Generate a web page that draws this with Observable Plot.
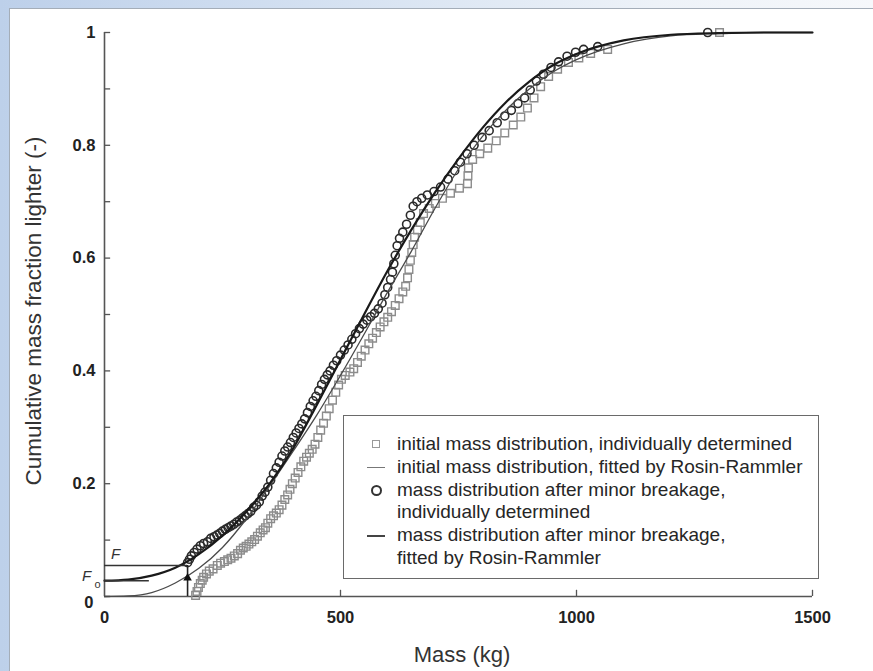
<!DOCTYPE html>
<html><head><meta charset="utf-8">
<script src="https://cdn.jsdelivr.net/npm/d3@7"></script>
<script src="https://cdn.jsdelivr.net/npm/@observablehq/plot@0.6"></script>
<style>
html,body{margin:0;padding:0;}
body{width:873px;height:671px;position:relative;overflow:hidden;
  background:linear-gradient(90deg,#bdd0ea 0%,#d3e0f1 35%,#edf2f8 75%,#f6f8fb 100%);
  font-family:"Liberation Sans",Arial,sans-serif;}
#panel{position:absolute;left:9px;top:8px;width:864px;height:663px;background:#fff;
  border-left:1px solid #a4adb8;border-top:1px solid #a4adb8;box-sizing:border-box;}
#chart{position:absolute;left:0;top:0;}
#ytitle{position:absolute;left:34px;top:311px;transform:translate(-50%,-50%) rotate(-90deg);
  white-space:nowrap;font-size:22.5px;color:#333;}
#xtitle{position:absolute;left:462px;top:655px;transform:translate(-50%,-50%);
  white-space:nowrap;font-size:22px;color:#333;}
#legend{position:absolute;left:343px;top:415px;width:476px;height:164px;box-sizing:border-box;
  border:1.6px solid #6a6a6a;background:#fff;}
.row{position:absolute;left:0;height:22px;line-height:22px;font-size:19px;color:#262626;white-space:nowrap;}
.txt{position:absolute;left:53px;top:0;}
.sym{position:absolute;}
</style></head>
<body>
<div id="panel"></div>
<div id="chart"></div>
<div id="ytitle">Cumulative mass fraction lighter (-)</div>
<div id="xtitle">Mass (kg)</div>
<div id="legend"></div>
<script>
// ---- data ----
const circleMass = [176,180,184,190,196,203,210,218,225,232,238,244,250,256,262,268,274,280,286,292,298,304,310,316,322,328,334,340,346,352,358,364,370,376,382,388,394,400,406,412,418,424,430,436,442,448,454,460,466,472,478,485,492,500,508,516,524,532,540,548,556,564,572,580,588,594,600,606,610,613,616,620,625,632,640,648,654,662,672,684,698,712,728,742,754,768,783,800,815,832,848,862,876,890,902,915,930,946,962,980,998,1015,1045,1278];
const circleFrac = [0.060,0.066,0.072,0.078,0.084,0.090,0.094,0.097,0.103,0.106,0.109,0.112,0.116,0.119,0.122,0.125,0.128,0.132,0.135,0.139,0.143,0.147,0.151,0.158,0.162,0.168,0.178,0.185,0.194,0.206,0.218,0.228,0.238,0.249,0.258,0.265,0.273,0.282,0.290,0.298,0.306,0.315,0.326,0.337,0.347,0.355,0.365,0.376,0.385,0.393,0.400,0.410,0.418,0.428,0.437,0.446,0.456,0.466,0.475,0.483,0.490,0.496,0.502,0.510,0.520,0.535,0.548,0.562,0.575,0.590,0.605,0.622,0.635,0.646,0.660,0.676,0.692,0.700,0.706,0.712,0.718,0.726,0.740,0.755,0.770,0.785,0.800,0.814,0.826,0.840,0.852,0.862,0.874,0.884,0.898,0.914,0.926,0.938,0.948,0.958,0.965,0.970,0.975,1.0];
const squareMass = [193,196,199,203,207,210,216,222,230,239,246,254,261,268,275,282,288,294,300,306,312,318,324,330,336,341,346,352,358,364,370,376,382,388,393,398,404,410,416,422,428,434,440,446,452,458,464,470,476,483,490,496,502,510,520,528,536,544,552,560,568,576,584,592,600,608,616,624,632,638,642,645,648,651,654,657,663,669,676,688,701,716,733,752,769,770,771,780,795,812,830,848,866,882,896,910,924,941,960,983,1005,1030,1066,1303];
const squareFrac = [0.002,0.009,0.016,0.023,0.029,0.034,0.040,0.045,0.049,0.055,0.059,0.062,0.065,0.068,0.072,0.076,0.082,0.086,0.089,0.093,0.097,0.101,0.107,0.113,0.118,0.122,0.130,0.138,0.143,0.148,0.154,0.162,0.172,0.180,0.190,0.200,0.210,0.220,0.230,0.240,0.247,0.254,0.261,0.270,0.282,0.295,0.307,0.320,0.333,0.348,0.362,0.375,0.385,0.392,0.398,0.404,0.415,0.426,0.437,0.448,0.458,0.468,0.478,0.487,0.495,0.505,0.516,0.528,0.540,0.550,0.565,0.580,0.596,0.610,0.624,0.637,0.650,0.663,0.679,0.688,0.697,0.706,0.715,0.724,0.732,0.746,0.760,0.775,0.785,0.795,0.808,0.822,0.836,0.850,0.866,0.884,0.904,0.922,0.935,0.947,0.955,0.963,0.970,1.0];
// Rosin-Rammler fitted curves
const fitMass = [0,50,100,150,200,250,300,350,400,450,500,550,600,650,700,750,800,850,900,950,1000,1100,1200,1300,1400,1500];
const fitBreakage = [0.028,0.030,0.037,0.051,0.075,0.108,0.150,0.200,0.263,0.340,0.420,0.500,0.578,0.650,0.716,0.776,0.830,0.876,0.913,0.942,0.962,0.986,0.996,0.999,1.0,1.0];
const fitInitial = [0,0.001,0.007,0.024,0.050,0.087,0.137,0.196,0.258,0.322,0.392,0.465,0.540,0.612,0.688,0.758,0.815,0.862,0.900,0.930,0.952,0.980,0.994,0.998,1.0,1.0];
// axis ticks and annotations
const yMajor = [0,0.2,0.4,0.6,0.8,1];
const yLabels = ["0","0.2","0.4","0.6","0.8","1"];
const yMinor = [0.1,0.3,0.5,0.7,0.9];
const xMajor = [0,500,1000,1500];
const xLabels = ["0","500","1000","1500"];
const fLevel = 0.055, f0Level = 0.028, breakMass = 176, f0LineEnd = 95;
const legendItems = [
  {sym:"square", lines:["initial mass distribution, individually determined"]},
  {sym:"thin", lines:["initial mass distribution, fitted by Rosin-Rammler"]},
  {sym:"circle", lines:["mass distribution after minor breakage,","individually determined"]},
  {sym:"thick", lines:["mass distribution after minor breakage,","fitted by Rosin-Rammler"]}
];

const circles = circleMass.map((m,i)=>({m, f:circleFrac[i]}));
const squares = squareMass.map((m,i)=>({m, f:squareFrac[i]}));
const fitB = fitMass.map((m,i)=>({m, f:fitBreakage[i]}));
const fitI = fitMass.map((m,i)=>({m, f:fitInitial[i]}));
const axisCol = "#555";
const tickFont = 16.5;

const chart = Plot.plot({
  width: 873, height: 671,
  marginLeft: 104, marginRight: 61, marginTop: 32, marginBottom: 75,
  style: {background: "transparent", fontFamily: "Liberation Sans, Arial, sans-serif", color: "#222", overflow: "visible"},
  x: {domain: [0,1500], axis: null},
  y: {domain: [0,1], axis: null},
  marks: [
    // axes
    Plot.ruleX([0], {y1: 0, y2: 1, stroke: axisCol, strokeWidth: 1.6}),
    Plot.ruleY([0], {x1: 0, x2: 1500, stroke: axisCol, strokeWidth: 1.6}),
    Plot.ruleY(yMajor.concat(yMinor), {x1: 0, x2: 13, stroke: axisCol, strokeWidth: 1.3}),
    Plot.ruleX(xMajor.slice(1), {y1: 0, y2: 0.011, stroke: axisCol, strokeWidth: 1.3}),
    Plot.text(yMajor.slice(1), {x: 0, y: d=>d, text: (d,i)=>yLabels[i+1], dx: -9, textAnchor: "end", fontSize: tickFont, fontWeight: "bold", fill: "#222"}),
    Plot.text([0], {x: 0, y: 0, text: ["0"], dx: -11, dy: 6, textAnchor: "end", fontSize: tickFont, fontWeight: "bold", fill: "#222"}),
    Plot.text(xMajor, {x: d=>d, y: 0, text: (d,i)=>xLabels[i], dy: 21, fontSize: tickFont, fontWeight: "bold", fill: "#222"}),
    // data points
    Plot.dot(squares, {x: "m", y: "f", symbol: "square", r: 4.3, stroke: "#8c8c8c", strokeWidth: 1.4, fill: "none"}),
    Plot.dot(circles, {x: "m", y: "f", r: 4, stroke: "#2a2a2a", strokeWidth: 1.6, fill: "none"}),
    // fitted curves
    Plot.line(fitI, {x: "m", y: "f", stroke: "#4a4a4a", strokeWidth: 1.3, curve: "monotone-x"}),
    Plot.line(fitB, {x: "m", y: "f", stroke: "#1a1a1a", strokeWidth: 2.2, curve: "monotone-x"}),
    // F and F0 annotations
    Plot.ruleY([fLevel], {x1: 0, x2: breakMass, stroke: "#333", strokeWidth: 1.6}),
    Plot.ruleY([f0Level], {x1: 0, x2: f0LineEnd, stroke: "#333", strokeWidth: 1.6}),
    Plot.ruleX([breakMass], {y1: 0, y2: fLevel, stroke: "#222", strokeWidth: 1.6}),
    Plot.dot([breakMass], {x: d=>d, y: fLevel*0.6, symbol: "triangle", r: 3.2, fill: "#111"}),
    Plot.text(["F"], {x: 0, y: fLevel, dx: 11, dy: -11, fontSize: 15, fontStyle: "italic", fill: "#333"}),
    Plot.text(["F"], {x: 0, y: f0Level, dx: -18, dy: -5, fontSize: 15, fontStyle: "italic", fill: "#333"}),
    Plot.text(["o"], {x: 0, y: f0Level, dx: -7, dy: 4, fontSize: 11, fill: "#333"})
  ]
});
document.getElementById("chart").appendChild(chart);

// legend
const lg = document.getElementById("legend");
let rowIdx = 0;
const rowTops = [17, 40, 63, 85, 108, 131];
legendItems.forEach(item => {
  item.lines.forEach((line, j) => {
    const row = document.createElement("div");
    row.className = "row";
    row.style.top = rowTops[rowIdx] + "px";
    row.style.width = "470px";
    const t = document.createElement("span");
    t.className = "txt"; t.textContent = line;
    row.appendChild(t);
    if (j === 0) {
      const s = document.createElement("span");
      s.className = "sym";
      if (item.sym === "square") { s.style.cssText = "left:28px;top:7px;width:6px;height:6px;border:1.4px solid #999;"; }
      if (item.sym === "circle") { s.style.cssText = "left:27px;top:6px;width:7px;height:7px;border:2px solid #333;border-radius:50%;"; }
      if (item.sym === "thin") { s.style.cssText = "left:23px;top:11px;width:18px;height:0;border-top:1.3px solid #777;"; }
      if (item.sym === "thick") { s.style.cssText = "left:23px;top:11px;width:18px;height:0;border-top:2px solid #444;"; }
      row.appendChild(s);
    }
    lg.appendChild(row);
    rowIdx++;
  });
});
</script>
</body></html>
